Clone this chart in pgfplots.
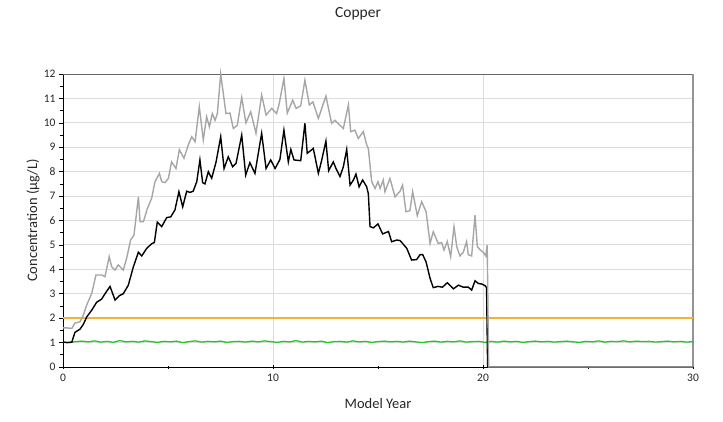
\documentclass[border=0pt]{standalone}
\usepackage{pgfplots}
\pgfplotsset{compat=1.18}
\usepackage{fontspec}
\setmainfont{Carlito}
\definecolor{grayser}{HTML}{A6A6A6}
\definecolor{greenser}{HTML}{1ECB1E}
\definecolor{orangeser}{HTML}{F5B335}
\definecolor{gridc}{HTML}{DCDCDC}
\begin{document}
\begin{tikzpicture}[x=1pt,y=1pt]
\begin{axis}[
  at={(0,0)}, anchor=origin,
  scale only axis, width=630pt, height=293pt,
  xmin=0, xmax=30, ymin=0, ymax=12,
  xtick={0,10,20,30}, minor xtick={5,15,25},
  ytick={0,1,...,12}, minor ytick={0.5,1.5,...,11.5},
  ymajorgrids, xmajorgrids,
  grid style={gridc, line width=0.9pt},
  minor grid style={draw=none},
  tick style={black, line width=0.6pt},
  major tick length=4pt, minor tick length=3pt,
  ytick align=outside, xtick align=center,
  axis x line*=bottom, axis y line*=left,
  axis line style={black, line width=0.8pt},
  tick label style={font=\fontsize{11.5}{13}\selectfont, text=black!85},
  /pgf/number format/assume math mode=true,
  xticklabel style={yshift=-2pt},
  xlabel={Model Year}, ylabel={Concentration (µg/L)},
  label style={font=\fontsize{14.5}{16}\selectfont, text=black!85},
  xlabel style={at={(axis description cs:0.5,-0.1263)}, anchor=center},
  ylabel style={at={(axis description cs:-0.0476,0.5)}, anchor=center},
  clip=false,
]
% frame top and right
\draw[color=black!60, line width=0.9pt] (rel axis cs:0,1) -- (rel axis cs:1,1);
\draw[color=black!42, line width=1.1pt] (rel axis cs:1,0) -- (rel axis cs:1,1);
\addplot[orangeser, line width=1.4pt] coordinates {(0,2) (30,2)};
\addplot[greenser, line width=1.3pt] coordinates {
(0,1.02) (0.3,1.0) (0.6,1.04) (0.9,1.06) (1.2,1.03) (1.5,1.07) (1.8,1.02) (2.1,1.05) (2.4,1.01) (2.7,1.08) (3.0,1.03) (3.3,1.05) (3.6,1.02) (3.9,1.07) (4.2,1.04) (4.5,1.01) (4.8,1.05) (5.1,1.03) (5.4,1.06) (5.7,1.0) (6.0,1.04) (6.3,1.07) (6.6,1.02) (6.9,1.05) (7.2,1.03) (7.5,1.06) (7.8,1.01) (8.1,1.04) (8.4,1.05) (8.7,1.02) (9.0,1.06) (9.3,1.03) (9.6,1.07) (9.9,1.04) (10.2,1.01) (10.5,1.05) (10.8,1.03) (11.1,1.08) (11.4,1.02) (11.7,1.05) (12.0,1.03) (12.3,1.06) (12.6,1.0) (12.9,1.04) (13.2,1.05) (13.5,1.02) (13.8,1.07) (14.1,1.03) (14.4,1.05) (14.7,1.01) (15.0,1.04) (15.3,1.06) (15.6,1.03) (15.9,1.05) (16.2,1.02) (16.5,1.06) (16.8,1.03) (17.1,1.0) (17.4,1.04) (17.7,1.06) (18.0,1.02) (18.3,1.05) (18.6,1.03) (18.9,1.07) (19.2,1.02) (19.5,1.04) (19.8,1.05) (20.1,1.01) (20.4,1.05) (20.7,1.02) (21.0,1.06) (21.3,1.03) (21.6,1.05) (21.9,1.01) (22.2,1.04) (22.5,1.06) (22.8,1.03) (23.1,1.05) (23.4,1.02) (23.7,1.04) (24.0,1.06) (24.3,1.03) (24.6,1.01) (24.9,1.05) (25.2,1.03) (25.5,1.07) (25.8,1.02) (26.1,1.05) (26.4,1.04) (26.7,1.07) (27.0,1.03) (27.3,1.06) (27.6,1.04) (27.9,1.05) (28.2,1.02) (28.5,1.04) (28.8,1.06) (29.1,1.03) (29.4,1.05) (29.7,1.02) (30,1.04)};
\addplot[black, line width=1.4pt] coordinates {
(0,1.02) (0.2,1.0) (0.42,1.02) (0.57,1.42) (0.81,1.55) (0.97,1.75) (1.13,2.05) (1.37,2.33) (1.6,2.65) (1.84,2.78) (2.0,3.0) (2.24,3.3) (2.48,2.74) (2.68,2.92) (2.87,3.0) (3.11,3.35) (3.35,4.1) (3.59,4.7) (3.75,4.55) (3.98,4.85) (4.22,5.05) (4.35,5.1) (4.49,5.93) (4.7,5.75) (4.94,6.12) (5.13,6.15) (5.33,6.43) (5.52,7.18) (5.7,6.56) (5.89,7.2) (6.05,7.15) (6.2,7.2) (6.37,7.59) (6.52,8.48) (6.65,7.55) (6.76,7.5) (6.92,8.0) (7.08,7.73) (7.29,8.4) (7.51,9.43) (7.67,8.13) (7.87,8.61) (8.08,8.2) (8.24,8.34) (8.51,9.5) (8.7,7.86) (8.9,8.37) (9.14,7.93) (9.46,9.57) (9.67,8.13) (9.89,8.48) (10.1,8.13) (10.33,8.5) (10.52,9.7) (10.73,8.4) (10.85,8.91) (11.0,8.48) (11.32,8.45) (11.52,9.98) (11.63,8.75) (11.92,8.95) (12.16,7.93) (12.3,8.4) (12.52,9.25) (12.65,8.04) (12.87,8.4) (13.0,8.13) (13.19,7.8) (13.35,8.2) (13.51,8.91) (13.67,7.45) (13.83,7.66) (13.95,7.9) (14.1,7.38) (14.27,7.66) (14.46,7.38) (14.54,7.1) (14.62,5.75) (14.78,5.7) (15.0,5.86) (15.22,5.45) (15.5,5.55) (15.65,5.13) (15.89,5.2) (16.05,5.18) (16.37,4.86) (16.6,4.38) (16.84,4.4) (17.0,4.6) (17.13,4.6) (17.29,4.3) (17.48,3.63) (17.63,3.25) (17.85,3.3) (18.07,3.27) (18.3,3.45) (18.59,3.2) (18.83,3.35) (19.06,3.27) (19.3,3.27) (19.46,3.15) (19.62,3.53) (19.78,3.42) (19.94,3.4) (20.1,3.33) (20.17,3.25) (20.22,0) (30,0)};
\addplot[grayser, line width=1.4pt] coordinates {
(0,1.6) (0.2,1.6) (0.42,1.58) (0.57,1.8) (0.81,1.85) (0.97,2.13) (1.13,2.54) (1.37,3.02) (1.57,3.77) (1.84,3.77) (2.0,3.7) (2.2,4.52) (2.32,4.1) (2.48,3.97) (2.63,4.18) (2.87,3.97) (3.03,4.45) (3.22,5.2) (3.38,5.4) (3.59,6.97) (3.67,5.95) (3.83,5.95) (4.02,6.5) (4.22,6.9) (4.38,7.59) (4.59,7.93) (4.7,7.59) (4.86,7.55) (5.02,7.73) (5.17,8.4) (5.38,8.13) (5.54,8.9) (5.76,8.55) (5.97,9.1) (6.13,9.43) (6.29,9.23) (6.49,10.66) (6.68,9.3) (6.84,10.25) (6.97,9.84) (7.11,10.38) (7.24,10.1) (7.35,10.38) (7.51,12.0) (7.76,10.38) (7.95,10.4) (8.11,9.77) (8.3,9.9) (8.51,11.04) (8.71,10.0) (8.94,10.45) (9.19,9.57) (9.46,11.14) (9.67,10.32) (9.94,10.59) (10.17,10.38) (10.3,10.8) (10.52,11.82) (10.68,10.4) (10.94,10.93) (11.1,10.59) (11.32,10.7) (11.52,11.75) (11.73,10.73) (11.9,10.86) (12.16,10.18) (12.52,11.1) (12.79,9.98) (12.95,10.1) (13.19,9.9) (13.35,9.77) (13.59,10.73) (13.7,9.64) (13.9,9.7) (14.06,9.36) (14.3,9.64) (14.46,9.1) (14.54,8.95) (14.7,7.59) (14.86,7.31) (15.0,7.59) (15.1,7.31) (15.25,7.66) (15.33,7.18) (15.57,7.72) (15.81,6.97) (16.05,7.2) (16.17,7.45) (16.33,6.36) (16.52,6.4) (16.65,7.18) (16.87,6.2) (17.08,6.77) (17.29,6.36) (17.48,5.06) (17.63,5.54) (17.87,5.06) (18.03,5.1) (18.14,4.79) (18.3,5.14) (18.46,4.52) (18.62,5.75) (18.75,4.93) (18.9,4.55) (19.06,4.7) (19.22,5.14) (19.3,4.6) (19.46,4.55) (19.62,6.22) (19.73,4.93) (19.86,4.8) (20.01,4.7) (20.13,4.55) (20.2,5.0) (20.27,0) (30,0)};
\end{axis}
\node[font=\fontsize{15.5}{17}\selectfont, text=black!85] at (295pt,353pt) {Copper};
\pgfresetboundingbox
\path (-63pt,-54pt) rectangle (660pt,367pt);
\end{tikzpicture}
\end{document}
